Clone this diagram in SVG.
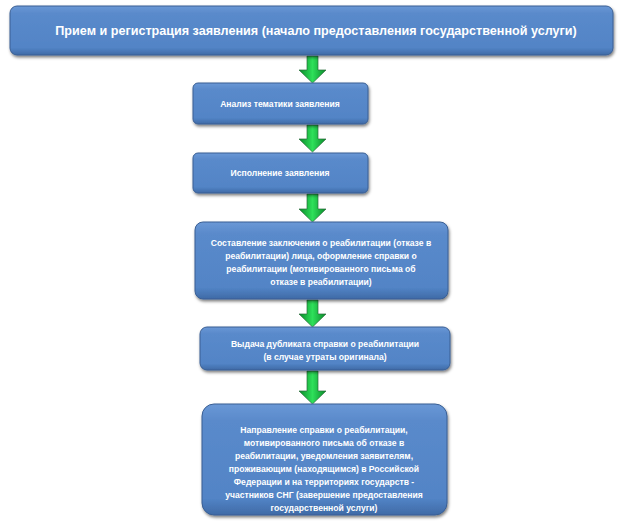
<svg xmlns="http://www.w3.org/2000/svg" width="630" height="529" viewBox="0 0 630 529">
<defs>
<linearGradient id="bg" x1="0" y1="0" x2="0" y2="1"><stop offset="0" stop-color="#6a98d6"/><stop offset="0.15" stop-color="#5a8acb"/><stop offset="0.85" stop-color="#5284c6"/><stop offset="1" stop-color="#3f6aa6"/></linearGradient>
<linearGradient id="gg" x1="0" y1="0" x2="1" y2="0"><stop offset="0" stop-color="#0a8a2a"/><stop offset="0.5" stop-color="#2ee05a"/><stop offset="1" stop-color="#0a8a2a"/></linearGradient>
<filter id="sh" x="-10%" y="-10%" width="120%" height="130%"><feDropShadow dx="1" dy="2" stdDeviation="1.5" flood-color="#000" flood-opacity="0.5"/></filter>
</defs>
<style>
.b{fill:url(#bg);stroke:#3a5f94;stroke-width:1;filter:url(#sh)}
.t{fill:#fff;font-family:"Liberation Sans",Arial,sans-serif;font-size:8.6px;font-weight:bold;text-anchor:middle}
.a{fill:url(#gg);stroke:#2a6a3a;stroke-width:0.7}
</style>
<g id="connectors">
<path class="a" d="M307 56h11v14h8l-13.5 13l-13.5-13h8z"/>
<path class="a" d="M307 125h11v14h8l-13.5 13l-13.5-13h8z"/>
<path class="a" d="M307 194h11v15h8l-13.5 13l-13.5-13h8z"/>
<path class="a" d="M307 300h11v14h8l-13.5 13l-13.5-13h8z"/>
<path class="a" d="M307 371h11v20h8l-13.5 13l-13.5-13h8z"/>
</g>
<g id="n1"><rect class="b" x="10" y="6" width="603" height="49" rx="7"/><text class="t" x="316" y="35" style="font-size:12.6px">Прием и регистрация заявления (начало предоставления государственной  услуги)</text></g>
<g id="n2"><rect class="b" x="193" y="83" width="175" height="41" rx="5"/><text class="t" x="280" y="107">Анализ тематики заявления</text></g>
<g id="n3"><rect class="b" x="193" y="153" width="175" height="40" rx="5"/><text class="t" x="280" y="176">Исполнение заявления</text></g>
<g id="n4"><rect class="b" x="195" y="222" width="253" height="77" rx="8"/><text class="t" x="321" y="246">Составление заключения о реабилитации (отказе в</text><text class="t" x="321" y="259">реабилитации)  лица, оформление справки о</text><text class="t" x="321" y="272">реабилитации (мотивированного  письма  об</text><text class="t" x="321" y="285">отказе в реабилитации)</text></g>
<g id="n5"><rect class="b" x="200" y="327" width="250" height="43" rx="7"/><text class="t" x="325" y="347">Выдача дубликата  справки о реабилитации</text><text class="t" x="325" y="360">(в случае утраты оригинала)</text></g>
<g id="n6"><rect class="b" x="202" y="404" width="245" height="111" rx="12"/><text class="t" x="324" y="433">Направление справки о реабилитации,</text><text class="t" x="324" y="446">мотивированного письма об отказе в</text><text class="t" x="324" y="459">реабилитации, уведомления заявителям,</text><text class="t" x="324" y="472">проживающим (находящимся) в Российской</text><text class="t" x="324" y="485">Федерации и на территориях государств -</text><text class="t" x="324" y="498">участников СНГ (завершение предоставления</text><text class="t" x="324" y="511">государственной услуги)</text></g>
</svg>
